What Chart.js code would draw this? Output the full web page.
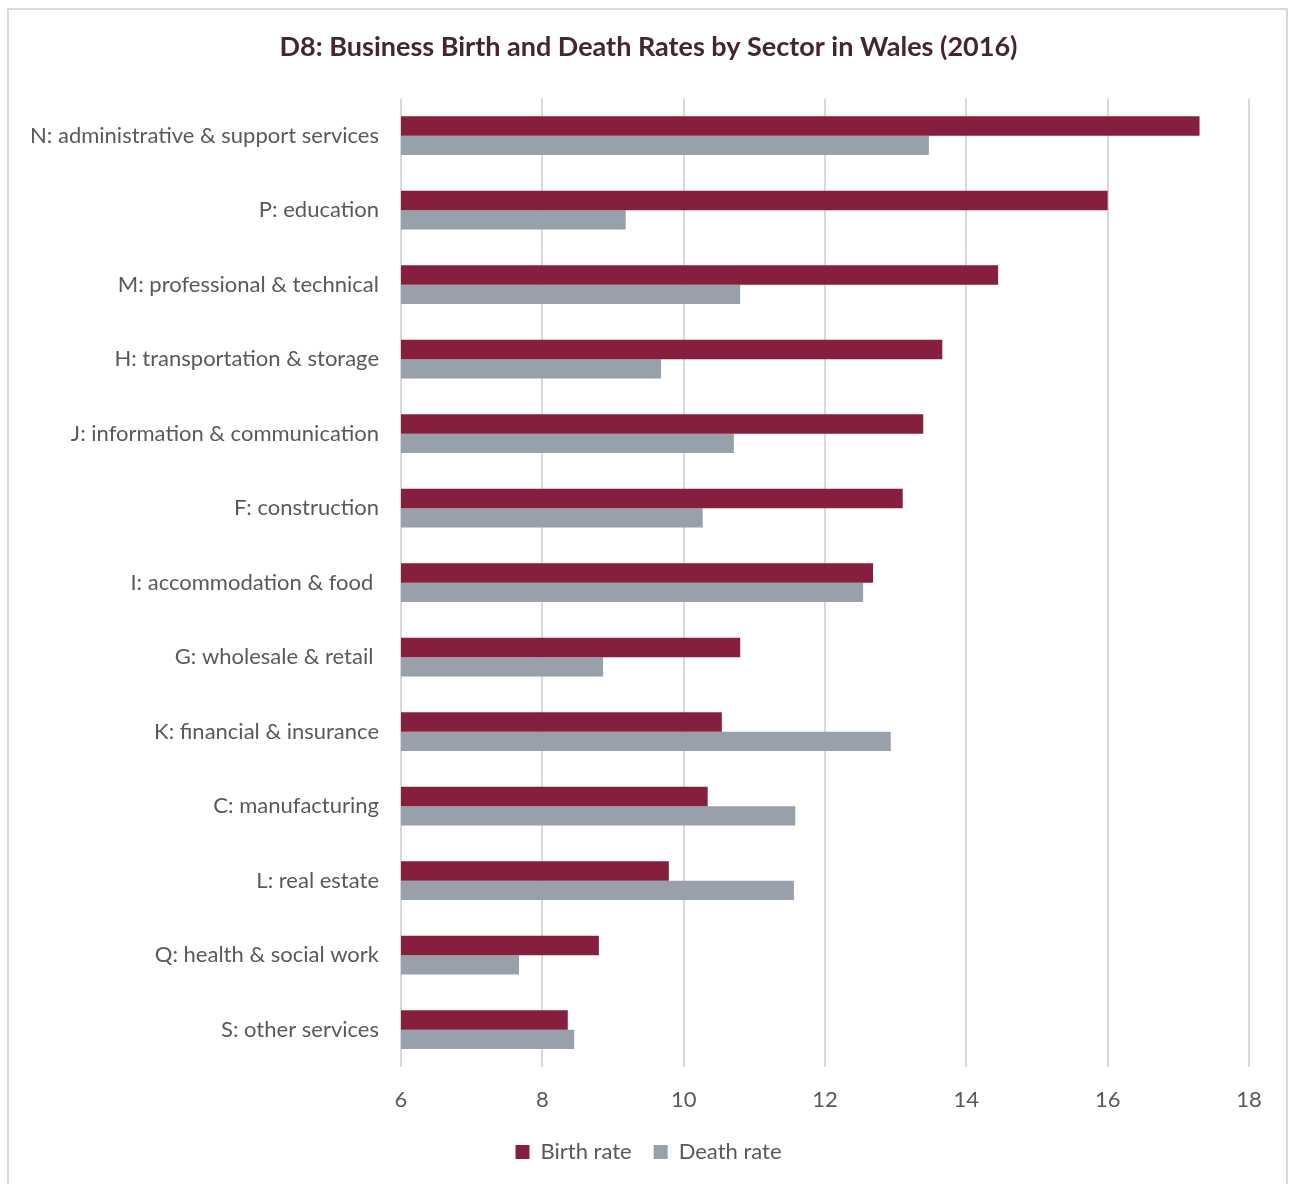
<!DOCTYPE html>
<html>
<head>
<meta charset="utf-8">
<script src="https://cdn.jsdelivr.net/npm/chart.js@4"></script>
<style>
  html, body { margin: 0; padding: 0; background: #fff; }
  #frame {
    position: absolute; left: 7px; top: 8px;
    width: 1281px; height: 1200px;
    border: 2px solid #d9d9d9; box-sizing: border-box;
  }
  #wrap { position: absolute; left: 0; top: 0; width: 1297px; height: 1184px; }
</style>
</head>
<body>
<div id="frame"></div>
<div id="wrap"><canvas id="sectorChart"></canvas></div>
<script>
// sectors, top to bottom
const sectors = [
    'N: administrative & support services',
    'P: education',
    'M: professional & technical',
    'H: transportation & storage',
    'J: information & communication',
    'F: construction',
    'I: accommodation & food ',
    'G: wholesale & retail ',
    'K: financial & insurance',
    'C: manufacturing',
    'L: real estate',
    'Q: health & social work',
    'S: other services'
];
const birthRate = [17.3, 16.0, 14.45, 13.66, 13.39, 13.1, 12.68, 10.8, 10.54, 10.34, 9.79, 8.8, 8.36];
const deathRate = [13.47, 9.18, 10.8, 9.68, 10.71, 10.27, 12.54, 8.86, 12.93, 11.58, 11.56, 7.67, 8.45];
const xTicks = [6, 8, 10, 12, 14, 16, 18];

document.addEventListener('DOMContentLoaded', function () {
    const ctx = document.getElementById('sectorChart');
    const textColor = '#595959';
    const font = 'Lato, "Open Sans", sans-serif';

    new Chart(ctx, {
        type: 'bar',
        data: {
            labels: sectors,
            datasets: [{
                label: 'Birth rate',
                data: birthRate,
                backgroundColor: '#861f3e'
            }, {
                label: 'Death rate',
                data: deathRate,
                backgroundColor: '#98a0ac'
            }]
        },
        options: {
            indexAxis: 'y',
            responsive: true,
            maintainAspectRatio: false,
            animation: false,
            categoryPercentage: 0.52,
            barPercentage: 1,
            layout: { padding: { left: 0, right: 0, top: 0, bottom: 11 } },
            scales: {
                x: {
                    min: xTicks[0],
                    max: xTicks[xTicks.length - 1],
                    afterBuildTicks: function (scale) {
                        scale.ticks = xTicks.map(v => ({ value: v }));
                    },
                    afterFit: function (scale) { scale.height = 52; },
                    grid: { color: '#d9d9d9', lineWidth: 2, drawTicks: false },
                    border: { display: false },
                    ticks: { color: textColor, padding: 20, font: { family: font, size: 22 } }
                },
                y: {
                    afterFit: function (scale) { scale.width = 401; },
                    grid: { display: false },
                    border: { display: false },
                    ticks: { color: textColor, padding: 14, font: { family: font, size: 22 } }
                },
                // empty right-hand axis: just reserves space so title/legend stay centred
                yRight: {
                    type: 'category',
                    position: 'right',
                    afterFit: function (scale) { scale.width = 48; },
                    grid: { display: false },
                    border: { display: false },
                    ticks: { display: false }
                }
            },
            plugins: {
                title: {
                    display: true,
                    text: 'D8: Business Birth and Death Rates by Sector in Wales (2016)',
                    color: '#44262f',
                    font: { family: font, size: 27, weight: 'bold' },
                    padding: { top: 31, bottom: 35 }
                },
                legend: {
                    position: 'bottom',
                    labels: {
                        color: textColor,
                        boxWidth: 14,
                        boxHeight: 14,
                        padding: 22,
                        font: { family: font, size: 22 }
                    }
                },
                tooltip: { enabled: false }
            }
        }
    });
});
</script>
</body>
</html>
